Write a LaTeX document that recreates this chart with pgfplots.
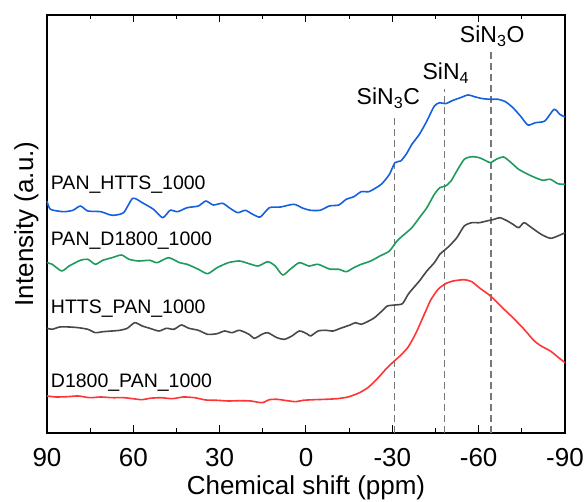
\documentclass[border=0pt]{standalone}
\usepackage{pgfplots}
\pgfplotsset{compat=1.18}
\usepackage{fontspec}
\setmainfont{Liberation Sans}
\definecolor{cblue}{RGB}{22,96,224}
\definecolor{cgreen}{RGB}{28,155,92}
\definecolor{cgray}{RGB}{72,72,72}
\definecolor{cred}{RGB}{255,52,52}
\definecolor{cdash}{RGB}{120,120,120}
\begin{document}
\begin{tikzpicture}
\begin{axis}[
  scale only axis,
  width=518pt, height=418pt,
  x dir=reverse,
  xmin=-90, xmax=90, ymin=0, ymax=418,
  xtick={90,60,30,0,-30,-60,-90},
  xticklabels={90,60,30,0,-30,-60,-90},
  minor x tick num=1,
  ytick=\empty,
  tick align=inside,
  major tick length=7.5pt, minor tick length=4.5pt,
  every tick/.style={black, line width=1pt},
  axis line style={line width=1.2pt},
  xticklabel style={font=\fontsize{26}{30}\selectfont, anchor=base, yshift=-34pt},
  xlabel={Chemical shift (ppm)},
  xlabel style={font=\fontsize{26}{30}\selectfont, at={(axis description cs:0.5,0)}, anchor=base, yshift=-62pt},
  ylabel={Intensity (a.u.)},
  ylabel style={font=\fontsize{26}{30}\selectfont, at={(axis description cs:-0.027,0.5)}, anchor=base},
  clip=false,
  every axis plot/.append style={line width=1.6pt, line join=round},
]
% dashed reference lines
\addplot[cdash, line width=1.1pt, dash pattern=on 7pt off 4pt] coordinates {(-30.6,0) (-30.6,317)};
\addplot[cdash, line width=1.1pt, dash pattern=on 7pt off 4pt] coordinates {(-48.0,0) (-48.0,344)};
\addplot[cdash, line width=1.1pt, dash pattern=on 7pt off 4pt] coordinates {(-64.3,0) (-64.3,382)};
% PAN_HTTS_1000
\addplot[cblue, smooth, tension=0.4] coordinates {
(90,232)(88.8,223.7)(84.3,221.3)(81.0,222.7)(78.4,227)(75.8,222)(71.3,221.3)(67.4,217.7)(63.4,220.3)(60.2,234.7)(56.9,230.3)(53.0,223.7)(49.8,215.3)(47.2,222.7)(44.6,221.3)(41.3,225.3)(37.4,227)(34.8,232)(32.2,228)(29.0,229.7)(26.4,224.7)(23.7,220.3)(21.1,222.7)(18.5,218.7)(15.9,216)(12.7,225.3)(8.8,226)(4.2,228.7)(1.0,224.7)(-1.6,222.7)(-4.9,222.7)(-8.1,227)(-11.4,228)(-14.0,233.7)(-16.6,236.3)(-19.2,241.3)(-21.8,241.3)(-24.4,245.3)(-26.4,249.3)(-29.0,258.7)(-30.9,270.3)(-32.9,272)(-34.8,278.7)(-36.8,288.7)(-39.4,298.7)(-42.0,312)(-44.6,327)(-46.5,330.3)(-48.5,329.3)(-51.1,332.7)(-53.7,335.3)(-56.3,338)(-58.9,336)(-61.5,334.3)(-64.1,333.7)(-66.7,333.7)(-69.3,331.3)(-71.9,325.3)(-74.5,317)(-77.1,308)(-79.7,310.3)(-83.0,312)(-86.2,323.7)(-88.2,318.7)(-90,316)};
% PAN_D1800_1000
\addplot[cgreen, smooth, tension=0.4] coordinates {
(90,170.3)(88.2,168.7)(84.9,162)(82.3,167)(78.4,172.7)(75.8,173.7)(73.2,168.7)(70.6,172.7)(67.4,175.3)(64.1,178)(61.5,173.7)(58.2,172)(54.3,172.7)(51.7,170.3)(47.8,175.3)(43.9,170.3)(41.3,168.7)(37.4,163.7)(34.2,159.3)(30.9,165.3)(27.0,170.3)(23.1,172)(19.8,169.3)(16.6,167)(13.3,171.3)(10.7,167)(8.1,158)(5.5,163.7)(2.3,170.3)(-1.0,167)(-4.2,168.7)(-8.1,164)(-11.4,163.7)(-14.0,161.3)(-16.6,165.3)(-19.2,168.7)(-22.5,172)(-25.7,177)(-29.0,182)(-31.6,192)(-34.2,198.7)(-36.8,205.3)(-39.4,215.3)(-42.0,225.3)(-44.6,238.7)(-46.5,245.3)(-48.5,247)(-50.4,252)(-52.4,262)(-55.0,273.7)(-57.6,276.3)(-60.2,275.3)(-62.2,272.7)(-64.1,270.3)(-66.1,273.7)(-68.7,276)(-71.3,270.3)(-73.9,263.7)(-77.1,258.7)(-79.7,255.3)(-82.3,252.7)(-84.9,253.7)(-87.5,249.3)(-90,248.7)};
% HTTS_PAN_1000
\addplot[cgray, smooth, tension=0.4] coordinates {
(90,104.7)(88.2,103.7)(85.6,106)(82.3,106)(79.1,105.3)(75.8,103.7)(73.2,100.3)(70.6,101.3)(67.4,102)(64.7,102.7)(62.1,104.7)(59.5,110.3)(56.9,107)(54.3,104.7)(51.1,102)(48.5,104.7)(45.9,103.7)(43.3,108)(40.7,104.7)(37.4,102.7)(34.2,98.7)(30.9,99.3)(28.3,102)(25.7,100.3)(23.1,102.7)(19.8,98.7)(17.9,94.7)(15.3,98.7)(13.3,100.3)(10.1,95.3)(7.5,93.7)(4.9,97)(2.3,102)(-0.3,99.3)(-1.6,97)(-4.2,102)(-6.8,102.7)(-9.4,102)(-12.0,104.7)(-15.3,108)(-17.2,110.3)(-19.2,108.7)(-21.8,112)(-23.8,115.3)(-26.4,122)(-28.3,127)(-30.9,128)(-33.5,129.3)(-35.5,138.7)(-37.4,145.3)(-39.4,152)(-42.0,162)(-44.6,170.3)(-46.5,178.7)(-47.8,182)(-49.8,187)(-52.4,195.3)(-55.0,207)(-57.6,210.3)(-60.2,210.3)(-62.8,212)(-65.4,213.7)(-67.4,215.3)(-70.0,212)(-71.9,208.7)(-73.9,205.3)(-75.8,210.3)(-78.4,205.3)(-81.7,198.7)(-84.9,194.7)(-87.5,197)(-90,200.3)};
% D1800_PAN_1000
\addplot[cred, smooth, tension=0.4] coordinates {
(90,37)(86.9,36)(83.0,36.3)(79.1,37)(75.2,35.3)(71.3,36)(67.4,35.3)(63.4,35.3)(60.2,34.3)(56.9,33.3)(54.3,34.7)(50.4,35.3)(46.5,34.3)(42.6,36)(38.7,35.3)(34.8,33)(30.9,32.7)(27.0,32)(23.1,32.3)(19.2,32)(15.3,30.3)(12.7,33.3)(10.1,33.7)(7.5,32.7)(3.6,31.3)(1.0,32.7)(-2.9,33.3)(-6.8,33.7)(-10.7,34.3)(-14.6,36)(-18.6,40.3)(-21.8,46)(-25.1,55.3)(-27.7,63.7)(-30.3,71)(-32.9,77.7)(-35.5,86)(-38.1,99.3)(-40.7,116)(-43.3,132.7)(-45.9,143.7)(-48.5,149.3)(-51.1,152)(-55.0,153.3)(-57.6,151.3)(-60.2,145.3)(-64.1,137)(-68.0,126)(-71.9,115.3)(-75.8,103.7)(-79.1,92.7)(-81.7,87)(-84.9,82)(-87.5,76)(-90,70.3)};
% labels
\node[anchor=west, inner sep=0pt, font=\fontsize{19.5}{23}\selectfont] at (axis cs:88.7,248) {PAN\_HTTS\_1000};
\node[anchor=west, inner sep=0pt, font=\fontsize{19.5}{23}\selectfont] at (axis cs:88.7,192) {PAN\_D1800\_1000};
\node[anchor=west, inner sep=0pt, font=\fontsize{19.5}{23}\selectfont] at (axis cs:88.7,124) {HTTS\_PAN\_1000};
\node[anchor=west, inner sep=0pt, font=\fontsize{19.5}{23}\selectfont] at (axis cs:88.7,50) {D1800\_PAN\_1000};
\node[inner sep=0pt, font=\fontsize{23}{27}\selectfont] at (axis cs:-28.6,335) {SiN\textsubscript{3}C};
\node[inner sep=0pt, font=\fontsize{23}{27}\selectfont] at (axis cs:-48.6,360) {SiN\textsubscript{4}};
\node[inner sep=0pt, font=\fontsize{23}{27}\selectfont] at (axis cs:-64.7,397) {SiN\textsubscript{3}O};
\end{axis}
\pgfresetboundingbox
\path[use as bounding box] (current axis.south west) ++(-47pt,-69pt) rectangle ++(587pt,502pt);
\end{tikzpicture}
\end{document}
